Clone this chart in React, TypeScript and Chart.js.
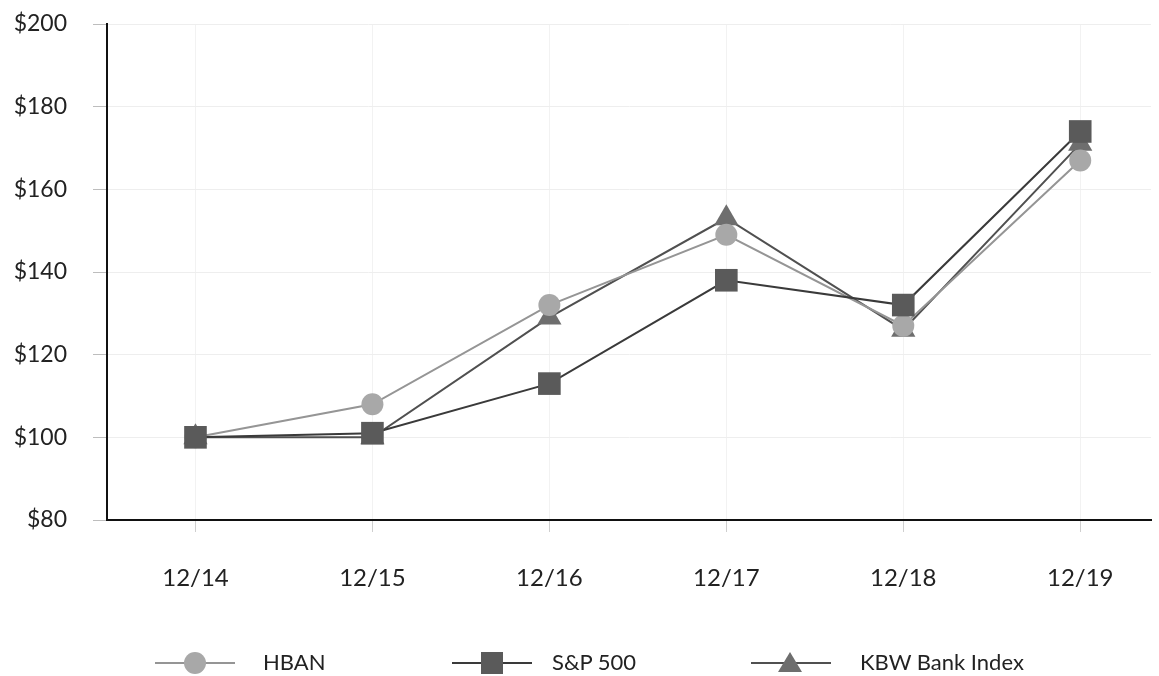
import React, { useEffect, useRef } from "react";
import { Chart, registerables } from "chart.js";

Chart.register(...registerables);

const categories = ["12/14", "12/15", "12/16", "12/17", "12/18", "12/19"];
const hban = [100, 108, 132, 149, 127, 167];
const sp500 = [100, 101, 113, 138, 132, 174];
const kbw = [100, 100, 129, 153, 126, 171];
const yTicks = [80, 100, 120, 140, 160, 180, 200];

const FONT = "Lato, 'Open Sans', sans-serif";

function toPoints(values: number[]) {
  return values.map((v, i) => ({ x: i, y: v }));
}

function LegendItem({ label, marker, line, color, left, textLeft }: any) {
  const markerStyle: React.CSSProperties = { position: "absolute" };
  if (marker === "circle") {
    Object.assign(markerStyle, { left: left + 29, top: -11, width: 22, height: 22, borderRadius: "50%", background: color });
  } else if (marker === "square") {
    Object.assign(markerStyle, { left: left + 29, top: -11, width: 22, height: 22, background: color });
  } else {
    Object.assign(markerStyle, {
      left: left + 27, top: -11, width: 0, height: 0,
      borderLeft: "12px solid transparent", borderRight: "12px solid transparent",
      borderBottom: `20px solid ${color}`,
    });
  }
  return (
    <>
      <div style={{ position: "absolute", left, top: -1, width: 80, height: 2, background: line }} />
      <div style={markerStyle} />
      <div style={{ position: "absolute", left: textLeft, top: -14, fontFamily: FONT, fontSize: 22, color: "#222", whiteSpace: "nowrap", lineHeight: "26px" }}>{label}</div>
    </>
  );
}

export default function App() {
  const ref = useRef<HTMLCanvasElement | null>(null);
  useEffect(() => {
    if (!ref.current) return;
    const chart = new Chart(ref.current, {
      type: "line",
      data: {
        datasets: [
          {
            label: "HBAN", data: toPoints(hban), borderColor: "#959595", borderWidth: 2,
            pointStyle: "circle", pointRadius: 11, pointBackgroundColor: "#a8a8a8", pointBorderColor: "#a8a8a8", pointBorderWidth: 0, order: 1,
          },
          {
            label: "S&P 500", data: toPoints(sp500), borderColor: "#3a3a3a", borderWidth: 2,
            pointStyle: "rect", pointRadius: 16, pointBackgroundColor: "#5a5a5a", pointBorderColor: "#5a5a5a", pointBorderWidth: 0, order: 0,
          },
          {
            label: "KBW Bank Index", data: toPoints(kbw), borderColor: "#505050", borderWidth: 2,
            pointStyle: "triangle", pointRadius: 14, pointBackgroundColor: "#6e6e6e", pointBorderColor: "#6e6e6e", pointBorderWidth: 0, order: 2,
          },
        ],
      },
      options: {
        animation: false,
        responsive: false,
        maintainAspectRatio: false,
        layout: { autoPadding: false, padding: { top: 24, right: 8, bottom: 0, left: 0 } },
        plugins: { legend: { display: false }, tooltip: { enabled: false } },
        scales: {
          x: {
            type: "linear", min: -0.5, max: 5.4,
            afterBuildTicks: (s: any) => { s.ticks = categories.map((_, i) => ({ value: i })); },
            afterFit: (s: any) => { s.height = 156; s.paddingLeft = 0; s.paddingRight = 0; },
            ticks: {
              callback: (v: any) => categories[v] ?? "",
              font: { family: FONT, size: 24 }, color: "#222", padding: 32, maxRotation: 0,
            },
            grid: { color: "#f2f2f2", tickColor: "#cfcfcf", tickLength: 12, drawOnChartArea: true },
            border: { display: true, color: "#111", width: 2 },
          },
          y: {
            min: 80, max: 200,
            afterBuildTicks: (s: any) => { s.ticks = yTicks.map((v) => ({ value: v })); },
            afterFit: (s: any) => { s.width = 107; s.paddingTop = 0; s.paddingBottom = 0; },
            ticks: {
              callback: (v: any) => "$" + v,
              font: { family: FONT, size: 23 }, color: "#222", padding: 26,
            },
            grid: { color: "#eeeeee", tickColor: "#bdbdbd", tickLength: 14 },
            border: { display: true, color: "#111", width: 2 },
          },
        },
      },
    });
    return () => chart.destroy();
  }, []);
  return (
    <div style={{ position: "fixed", left: 0, top: 0, width: 1159, height: 676, background: "#fff", overflow: "hidden" }}>
      <canvas ref={ref} width={1159} height={676} style={{ position: "absolute", left: 0, top: 0, width: 1159, height: 676 }} />
      <div style={{ position: "absolute", left: 0, top: 663, width: 1159, height: 0 }}>
        <LegendItem label="HBAN" marker="circle" line="#959595" color="#a8a8a8" left={155} textLeft={263} />
        <LegendItem label="S&P 500" marker="square" line="#3a3a3a" color="#5a5a5a" left={452} textLeft={552} />
        <LegendItem label="KBW Bank Index" marker="triangle" line="#505050" color="#6e6e6e" left={751} textLeft={860} />
      </div>
    </div>
  );
}
